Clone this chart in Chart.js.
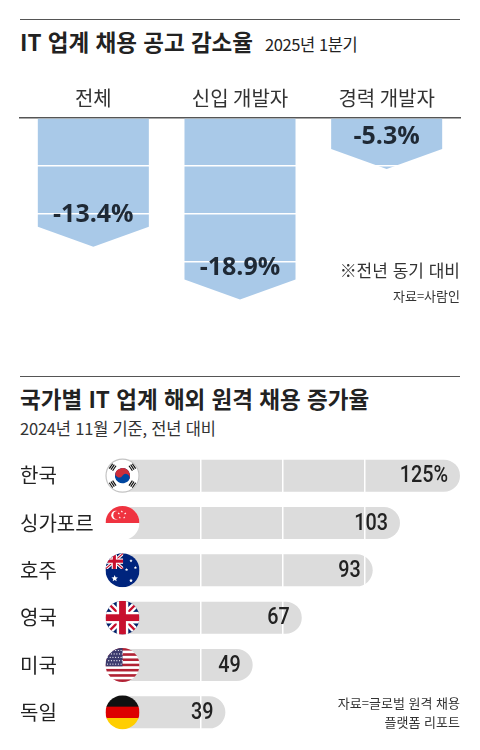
<!DOCTYPE html>
<html lang="ko">
<head>
<meta charset="utf-8">
<script src="https://cdn.jsdelivr.net/npm/chart.js@4.4.1/dist/chart.umd.min.js"></script>
<style>
  body { margin: 0; width: 480px; height: 750px; background: #fff; position: relative; overflow: hidden;
         font-family: 'Noto Sans CJK KR', sans-serif; color: #222; }
  .rule { position: absolute; left: 20px; width: 440px; border-top: 1.5px solid #555; }
  .title { position: absolute; left: 20px; font-size: 22.5px; line-height: 1; font-weight: bold; white-space: nowrap; }
  .title span { font-size: 16.5px; font-weight: normal; margin-left: 12px; letter-spacing: -0.4px; }
  .sub { position: absolute; left: 20px; font-size: 16.5px; line-height: 1; color: #333; white-space: nowrap; letter-spacing: -0.2px; }
  .note { position: absolute; right: 20px; line-height: 1; color: #333; white-space: nowrap; text-align: right; }
  canvas { position: absolute; left: 0; }
</style>
</head>
<body>
<div class="rule" style="top:19px"></div>
<div class="title" style="top:30px">IT 업계 채용 공고 감소율<span>2025년 1분기</span></div>
<canvas id="dropChart" width="480" height="260" style="top:60px"></canvas>
<div class="note" style="top:261px; font-size:17px">※전년 동기 대비</div>
<div class="note" style="top:289px; font-size:13px">자료=사람인</div>

<div class="rule" style="top:376px"></div>
<div class="title" style="top:387px">국가별 IT 업계 해외 원격 채용 증가율</div>
<div class="sub" style="top:420px">2024년 11월 기준, 전년 대비</div>
<canvas id="growthChart" width="480" height="310" style="top:440px"></canvas>
<div class="note" style="top:696px; font-size:13px">자료=글로벌 원격 채용</div>
<div class="note" style="top:715px; font-size:13px">플랫폼 리포트</div>

<script>
const groups = ['전체', '신입 개발자', '경력 개발자'];
const dropRates = [-13.4, -18.9, -5.3];
const dropLabels = ['-13.4%', '-18.9%', '-5.3%'];
const dropTicks = [0, -5, -10, -15, -20];

const countries = ['한국', '싱가포르', '호주', '영국', '미국', '독일'];
const flags = ['kr', 'sg', 'au', 'gb', 'us', 'de'];
const remoteGrowth = [125, 103, 93, 67, 49, 39];
const growthLabels = ['125%', '103', '93', '67', '49', '39'];
const growthTicks = [30, 60, 90];

const krFont = "'Noto Sans CJK KR', sans-serif";
const none = 'rgba(0,0,0,0)';

// arrow-shaped bars, drawn from the bar elements
const arrowBars = {
  id: 'arrowBars',
  afterDatasetsDraw(chart) {
    const ctx = chart.ctx;
    ctx.save();
    ctx.fillStyle = '#a9c9e8';
    chart.getDatasetMeta(0).data.forEach(bar => {
      const half = bar.width / 2;
      const neck = bar.y - 20;
      ctx.beginPath();
      ctx.moveTo(bar.x - half, bar.base);
      ctx.lineTo(bar.x + half, bar.base);
      ctx.lineTo(bar.x + half, neck);
      ctx.lineTo(bar.x, bar.y);
      ctx.lineTo(bar.x - half, neck);
      ctx.closePath();
      ctx.fill();
    });
    ctx.restore();
  },
  afterDraw(chart) {
    const ctx = chart.ctx;
    ctx.save();
    ctx.font = "bold 25px 'Open Sans', sans-serif";
    ctx.fillStyle = '#1f2935';
    ctx.textAlign = 'center';
    ctx.textBaseline = 'middle';
    chart.getDatasetMeta(0).data.forEach((bar, i) => {
      ctx.fillText(dropLabels[i], bar.x, bar.y - 32);
    });
    ctx.restore();
  }
};

new Chart(document.getElementById('dropChart'), {
  type: 'bar',
  data: {
    labels: groups,
    datasets: [{ data: dropRates, backgroundColor: none, categoryPercentage: 1, barPercentage: 0.757 }]
  },
  options: {
    responsive: false,
    animation: false,
    layout: { padding: { left: 20, right: 20, top: 0, bottom: 10 } },
    plugins: { legend: { display: false }, tooltip: { enabled: false } },
    scales: {
      x: {
        position: 'top',
        grid: { display: false, drawTicks: false },
        border: { color: '#555', width: 1.5 },
        ticks: { color: '#333', font: { family: krFont, size: 20 }, padding: 8 },
        afterFit: s => { s.height = 58; }
      },
      y: {
        min: -20, max: 0,
        afterBuildTicks: s => { s.ticks = dropTicks.map(v => ({ value: v })); },
        ticks: { display: false },
        border: { display: false },
        grid: { color: c => (c.tick.value === 0 || c.tick.value === -20) ? none : '#fff', lineWidth: 1.5, drawTicks: false, z: 1 }
      }
    }
  },
  plugins: [arrowBars]
});

function star(ctx, x, y, R) {
  ctx.beginPath();
  for (let i = 0; i < 10; i++) {
    const a = -Math.PI / 2 + i * Math.PI / 5;
    const rr = i % 2 ? R * 0.45 : R;
    ctx.lineTo(x + rr * Math.cos(a), y + rr * Math.sin(a));
  }
  ctx.closePath();
  ctx.fill();
}

function union(ctx, x, y, w, h) {
  ctx.save();
  ctx.beginPath(); ctx.rect(x, y, w, h); ctx.clip();
  ctx.fillStyle = '#012169'; ctx.fillRect(x, y, w, h);
  ctx.lineCap = 'butt';
  [['#fff', h * 0.2], ['#c8102e', h * 0.07]].forEach(([c, lw]) => {
    ctx.strokeStyle = c; ctx.lineWidth = lw;
    ctx.beginPath();
    ctx.moveTo(x, y); ctx.lineTo(x + w, y + h);
    ctx.moveTo(x + w, y); ctx.lineTo(x, y + h);
    ctx.stroke();
  });
  ctx.fillStyle = '#fff';
  ctx.fillRect(x + w / 2 - h * 0.17, y, h * 0.34, h);
  ctx.fillRect(x, y + h / 2 - h * 0.17, w, h * 0.34);
  ctx.fillStyle = '#c8102e';
  ctx.fillRect(x + w / 2 - h * 0.1, y, h * 0.2, h);
  ctx.fillRect(x, y + h / 2 - h * 0.1, w, h * 0.2);
  ctx.restore();
}

function drawFlag(ctx, code, cx, cy, r) {
  const L = cx - r, T = cy - r, D = 2 * r;
  ctx.save();
  ctx.beginPath(); ctx.arc(cx, cy, r, 0, Math.PI * 2); ctx.clip();
  if (code === 'de') {
    ['#111', '#dd0000', '#ffce00'].forEach((c, i) => { ctx.fillStyle = c; ctx.fillRect(L, T + i * D / 3, D, D / 3 + 0.5); });
  } else if (code === 'us') {
    for (let i = 0; i < 13; i++) { ctx.fillStyle = i % 2 ? '#fff' : '#b22234'; ctx.fillRect(L, T + i * D / 13, D, D / 13 + 0.3); }
    ctx.fillStyle = '#3c3b6e'; ctx.fillRect(L, T, D * 0.5, D * 7 / 13);
    ctx.fillStyle = '#fff';
    for (let row = 0; row < 5; row++) for (let col = 0; col < 6; col++) {
      ctx.beginPath(); ctx.arc(L + 2 + col * D * 0.08 + (row % 2) * 1.2, T + 2.5 + row * D * 0.1, 0.6, 0, Math.PI * 2); ctx.fill();
    }
  } else if (code === 'gb') {
    union(ctx, L, T, D, D);
  } else if (code === 'au') {
    ctx.fillStyle = '#00247d'; ctx.fillRect(L, T, D, D);
    union(ctx, L, T, D * 0.52, D * 0.46);
    ctx.fillStyle = '#fff';
    star(ctx, L + D * 0.27, T + D * 0.74, D * 0.1);
    star(ctx, L + D * 0.75, T + D * 0.22, D * 0.05);
    star(ctx, L + D * 0.62, T + D * 0.48, D * 0.05);
    star(ctx, L + D * 0.88, T + D * 0.42, D * 0.05);
    star(ctx, L + D * 0.75, T + D * 0.8, D * 0.06);
  } else if (code === 'sg') {
    ctx.fillStyle = '#fff'; ctx.fillRect(L, T, D, D);
    ctx.fillStyle = '#ef3340'; ctx.fillRect(L, T, D, D / 2);
    ctx.fillStyle = '#fff';
    ctx.beginPath(); ctx.arc(L + D * 0.3, T + D * 0.27, D * 0.13, 0, Math.PI * 2); ctx.fill();
    ctx.fillStyle = '#ef3340';
    ctx.beginPath(); ctx.arc(L + D * 0.35, T + D * 0.27, D * 0.12, 0, Math.PI * 2); ctx.fill();
    ctx.fillStyle = '#fff';
    [[0.45, 0.16], [0.55, 0.22], [0.52, 0.34], [0.39, 0.34], [0.36, 0.22]].forEach(([a, b]) => {
      star(ctx, L + D * (a + 0.03), T + D * b, D * 0.035);
    });
  } else if (code === 'kr') {
    ctx.fillStyle = '#fff'; ctx.fillRect(L, T, D, D);
    const R = r * 0.45;
    ctx.save();
    ctx.translate(cx, cy);
    ctx.rotate(0.588);
    ctx.fillStyle = '#0047a0';
    ctx.beginPath(); ctx.arc(0, 0, R, 0, Math.PI * 2); ctx.fill();
    ctx.fillStyle = '#cd2e3a';
    ctx.beginPath(); ctx.arc(0, 0, R, Math.PI, Math.PI * 2); ctx.fill();
    ctx.beginPath(); ctx.arc(-R / 2, 0, R / 2, 0, Math.PI * 2); ctx.fill();
    ctx.fillStyle = '#0047a0';
    ctx.beginPath(); ctx.arc(R / 2, 0, R / 2, 0, Math.PI * 2); ctx.fill();
    ctx.restore();
    ctx.fillStyle = '#111';
    [[-1, -1], [1, -1], [-1, 1], [1, 1]].forEach(([sx, sy]) => {
      ctx.save();
      ctx.translate(cx + sx * r * 0.58, cy + sy * r * 0.5);
      ctx.rotate(sx * sy > 0 ? -0.98 : 0.98);
      for (let k = -1; k <= 1; k++) ctx.fillRect(-3, k * 2 - 0.6, 6, 1.2);
      ctx.restore();
    });
  }
  ctx.restore();
  if (code === 'kr') {
    ctx.save();
    ctx.strokeStyle = '#c4c4c4'; ctx.lineWidth = 1.2;
    ctx.beginPath(); ctx.arc(cx, cy, r - 0.5, 0, Math.PI * 2); ctx.stroke();
    ctx.restore();
  }
}

const flagBadges = {
  id: 'flagBadges',
  afterDatasetsDraw(chart) {
    const ctx = chart.ctx;
    const left = chart.scales.x.getPixelForValue(0);
    chart.getDatasetMeta(0).data.forEach((bar, i) => {
      drawFlag(ctx, flags[i], left + 3.5, bar.y, 17);
    });
  },
  afterDraw(chart) {
    const ctx = chart.ctx;
    ctx.save();
    ctx.font = "500 23px 'Roboto', sans-serif";
    ctx.fillStyle = '#222';
    ctx.textAlign = 'right';
    ctx.textBaseline = 'middle';
    chart.getDatasetMeta(0).data.forEach((bar, i) => {
      // narrow the figures like the condensed face in the original
      ctx.save();
      ctx.translate(bar.x - 12, bar.y + 1);
      ctx.scale(0.86, 1);
      ctx.fillText(growthLabels[i], 0, 0);
      ctx.restore();
    });
    ctx.restore();
  }
};

new Chart(document.getElementById('growthChart'), {
  type: 'bar',
  data: {
    labels: countries,
    datasets: [{ data: remoteGrowth, backgroundColor: '#dcdcdc', borderRadius: 16, categoryPercentage: 1, barPercentage: 0.675 }]
  },
  options: {
    indexAxis: 'y',
    responsive: false,
    animation: false,
    layout: { padding: { left: 20, right: 20, top: 11, bottom: 14 } },
    plugins: { legend: { display: false }, tooltip: { enabled: false } },
    scales: {
      x: {
        min: 0, max: 125,
        afterBuildTicks: s => { s.ticks = growthTicks.map(v => ({ value: v })); },
        ticks: { display: false },
        border: { display: false },
        grid: { color: '#fff', lineWidth: 1.5, drawTicks: false, z: 1 }
      },
      y: {
        grid: { display: false, drawTicks: false },
        border: { display: false },
        ticks: { crossAlign: 'far', color: '#222', font: { family: krFont, size: 20 }, padding: 0 },
        afterFit: s => { s.width = 99; }
      }
    }
  },
  plugins: [flagBadges]
});
</script>
</body>
</html>
